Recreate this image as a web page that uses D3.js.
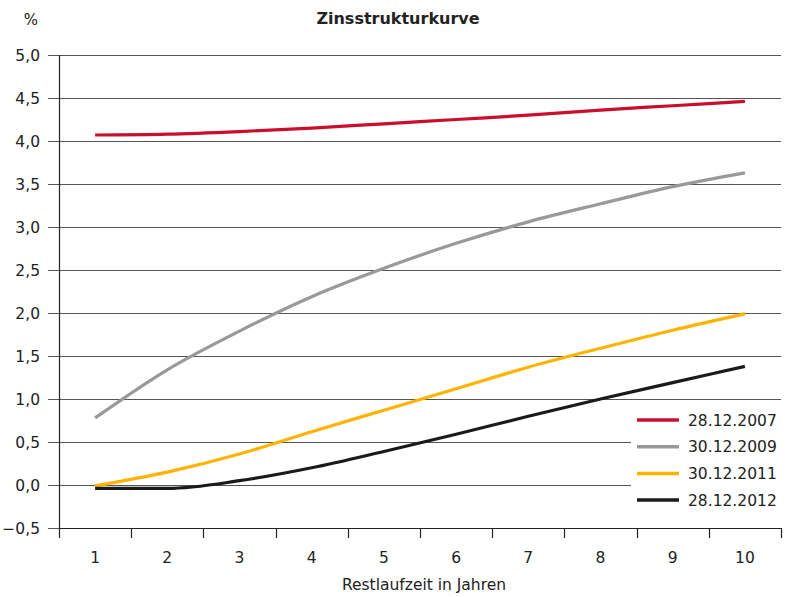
<!DOCTYPE html>
<html>
<head>
<meta charset="utf-8">
<script src="https://cdn.jsdelivr.net/npm/d3@7"></script>
<style>
  body { margin: 0; background: #fff; }
  text { font-family: "DejaVu Sans", Verdana, sans-serif; fill: #222; }
</style>
</head>
<body>
<div id="chart"></div>
<script>
// maturities (years)
const years = [1, 2, 3, 4, 5, 6, 7, 8, 9, 10];
// yield curves, in %
const curve2007 = [4.07, 4.08, 4.11, 4.15, 4.20, 4.25, 4.30, 4.36, 4.41, 4.46];
const curve2009 = [0.78, 1.34, 1.79, 2.19, 2.52, 2.81, 3.06, 3.27, 3.47, 3.63];
const curve2011 = [-0.01, 0.15, 0.36, 0.62, 0.87, 1.12, 1.37, 1.59, 1.80, 1.99];
const curve2012 = [-0.04, -0.04, 0.05, 0.20, 0.39, 0.59, 0.80, 1.00, 1.19, 1.38];
const seriesNames = ["28.12.2007", "30.12.2009", "30.12.2011", "28.12.2012"];
const yTicks = [-0.5, 0, 0.5, 1, 1.5, 2, 2.5, 3, 3.5, 4, 4.5, 5];

const series = [
    { name: seriesNames[0], values: curve2007, color: "#c8102e" },
    { name: seriesNames[1], values: curve2009, color: "#999999" },
    { name: seriesNames[2], values: curve2011, color: "#ffb300" },
    { name: seriesNames[3], values: curve2012, color: "#1a1a1a" }
];

const width = 787, height = 597;
const margin = { top: 55, right: 6, bottom: 69, left: 59 };
const innerW = width - margin.left - margin.right;
const innerH = height - margin.top - margin.bottom;

const svg = d3.select("#chart")
    .append("svg")
    .attr("width", width)
    .attr("height", height);

const g = svg.append("g")
    .attr("transform", `translate(${margin.left},${margin.top})`);

const x = d3.scaleBand()
    .domain(years)
    .range([0, innerW]);

const y = d3.scaleLinear()
    .domain([-0.5, 5])
    .range([innerH, 0]);

const fmt = v => d3.format(".1f")(v).replace(".", ",");

// horizontal gridlines (with left tick)
g.append("g")
    .selectAll("line")
    .data(yTicks)
    .enter()
    .append("line")
    .attr("x1", -11)
    .attr("x2", innerW)
    .attr("y1", d => Math.round(y(d)) + 0.5)
    .attr("y2", d => Math.round(y(d)) + 0.5)
    .attr("stroke", "#555")
    .attr("stroke-width", 1.2);

// y labels
g.append("g")
    .selectAll("text")
    .data(yTicks)
    .enter()
    .append("text")
    .attr("x", -19)
    .attr("y", d => y(d))
    .attr("dy", "0.36em")
    .attr("text-anchor", "end")
    .style("font-size", "15.5px")
    .text(fmt);

// y axis line
g.append("line")
    .attr("x1", 0.5).attr("x2", 0.5)
    .attr("y1", 0).attr("y2", innerH + 10)
    .attr("stroke", "#222")
    .attr("stroke-width", 1.2);

// x axis: ticks between categories
const xAxis = g.append("g")
    .attr("transform", `translate(0,${innerH})`);

xAxis.append("line")
    .attr("x1", 0).attr("x2", innerW)
    .attr("y1", 0.5).attr("y2", 0.5)
    .attr("stroke", "#222")
    .attr("stroke-width", 1.2);

xAxis.selectAll(".tick")
    .data(years)
    .enter()
    .append("line")
    .attr("x1", d => Math.round(x(d) + x.bandwidth()) + 0.5)
    .attr("x2", d => Math.round(x(d) + x.bandwidth()) + 0.5)
    .attr("y1", 0)
    .attr("y2", 10)
    .attr("stroke", "#222")
    .attr("stroke-width", 1.2);

xAxis.selectAll("text")
    .data(years)
    .enter()
    .append("text")
    .attr("x", d => x(d) + x.bandwidth() / 2)
    .attr("y", 35)
    .attr("text-anchor", "middle")
    .style("font-size", "15.5px")
    .text(d => d);

// axis title
svg.append("text")
    .attr("x", 424)
    .attr("y", 590)
    .attr("text-anchor", "middle")
    .style("font-size", "15.5px")
    .text("Restlaufzeit in Jahren");

svg.append("text")
    .attr("x", 31)
    .attr("y", 25)
    .attr("text-anchor", "middle")
    .style("font-size", "15px")
    .text("%");

// chart title
svg.append("text")
    .attr("x", 398)
    .attr("y", 24)
    .attr("text-anchor", "middle")
    .style("font-size", "16px")
    .style("font-weight", "bold")
    .text("Zinsstrukturkurve");

// legend box (covers gridlines)
const legend = svg.append("g")
    .attr("transform", "translate(631,405)");

legend.append("rect")
    .attr("x", 0).attr("y", 0)
    .attr("width", 150).attr("height", 110)
    .attr("fill", "#fff");

const line = d3.line()
    .x((d, i) => x(years[i]) + x.bandwidth() / 2)
    .y(d => y(d))
    .curve(d3.curveMonotoneX);

g.append("g")
    .selectAll("path")
    .data(series)
    .enter()
    .append("path")
    .attr("fill", "none")
    .attr("stroke", d => d.color)
    .attr("stroke-width", 3.2)
    .attr("d", d => line(d.values));

const rows = legend.selectAll(".row")
    .data(series)
    .enter()
    .append("g")
    .attr("transform", (d, i) => `translate(0,${15 + i * 26.7})`);

rows.append("line")
    .attr("x1", 6).attr("x2", 48)
    .attr("y1", 0).attr("y2", 0)
    .attr("stroke", d => d.color)
    .attr("stroke-width", 3.5);

rows.append("text")
    .attr("x", 57)
    .attr("y", 0)
    .attr("dy", "0.36em")
    .style("font-size", "15.5px")
    .text(d => d.name);
</script>
</body>
</html>
